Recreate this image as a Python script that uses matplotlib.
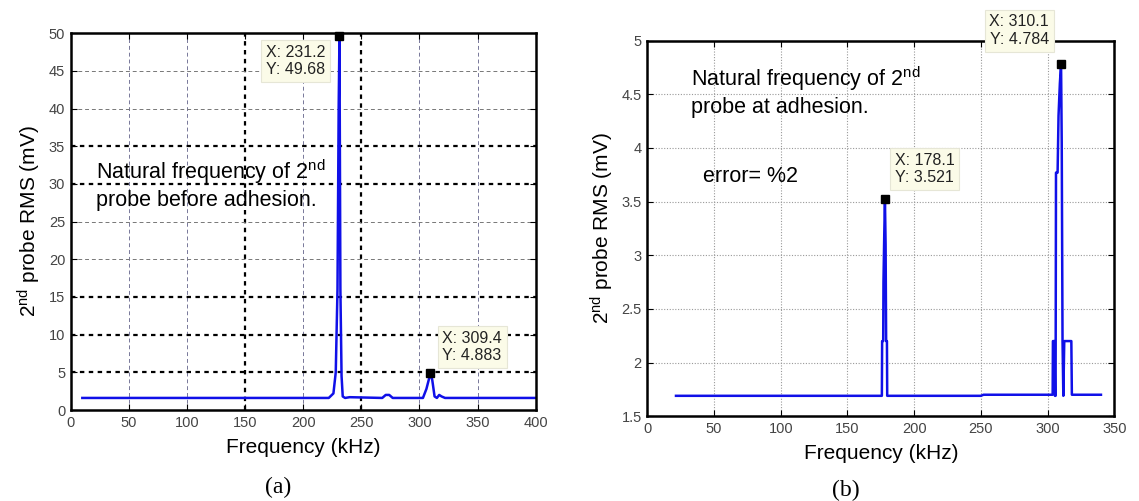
import matplotlib
matplotlib.use("Agg")
import matplotlib.pyplot as plt

plt.rcParams['font.family'] = ['Liberation Sans', 'DejaVu Sans']
plt.rcParams['mathtext.fontset'] = 'custom'
plt.rcParams['mathtext.rm'] = 'Liberation Sans'
plt.rcParams['mathtext.it'] = 'Liberation Sans'
plt.rcParams['mathtext.default'] = 'regular'

# ---------------- data: panel (a) ----------------
freq_a = [10, 222, 226, 228, 229.5, 230.5, 231.2, 232, 233, 234, 236, 240,
          268, 271, 274, 277, 303, 306, 308, 309.4, 311, 313, 315, 317, 319, 322, 400]
rms_a = [1.6, 1.6, 2.2, 5.0, 16.0, 40.0, 49.68, 16.0, 4.5, 1.8, 1.6, 1.7,
         1.6, 2.0, 2.0, 1.6, 1.6, 2.8, 4.0, 4.883, 4.0, 1.8, 1.6, 2.0, 1.8, 1.6, 1.6]
tips_a = [(231.2, 49.68), (309.4, 4.883)]
xticks_a = [0, 50, 100, 150, 200, 250, 300, 350, 400]
yticks_a = [0, 5, 10, 15, 20, 25, 30, 35, 40, 45, 50]

# ---------------- data: panel (b) ----------------
freq_b = [21.5, 175.8, 176.0, 176.8, 177.0, 177.6, 178.1, 178.6, 179.0, 179.6, 179.8,
          250, 252,
          303.8, 304.0, 305.2, 305.5, 306.0, 306.3, 307.5, 308.2, 309.2, 310.1, 310.6,
          311.2, 311.8, 312.5, 317.8, 318.2, 340]
rms_b = [1.69, 1.69, 2.2, 2.2, 2.75, 3.2, 3.521, 3.1, 2.2, 2.2, 1.69,
         1.69, 1.70,
         1.70, 2.2, 2.2, 1.69, 1.69, 3.77, 3.77, 4.3, 4.6, 4.784, 4.05,
         2.2, 1.69, 2.2, 2.2, 1.70, 1.70]
tips_b = [(178.1, 3.521), (310.1, 4.784)]
xticks_b = [0, 50, 100, 150, 200, 250, 300, 350]
yticks_b = [1.5, 2.0, 2.5, 3.0, 3.5, 4.0, 4.5, 5.0]
yticklabels_b = ['1.5', '2', '2.5', '3', '3.5', '4', '4.5', '5']

W, H = 1139, 501
fig = plt.figure(figsize=(W / 100, H / 100), dpi=100)

def px_axes(l, t, r, b):
    return fig.add_axes([l / W, 1 - b / H, (r - l) / W, (b - t) / H])

axa = px_axes(70.7, 33.2, 535.7, 410.0)
axb = px_axes(647.3, 40.6, 1114.3, 416.2)

line_color = '#1010e8'
tip_kw = dict(fontsize=11.5, color='#222222',
              bbox=dict(boxstyle='square,pad=0.3', facecolor='#fbfbe8',
                        edgecolor='#e6e6d6', linewidth=0.8))

def style_axes(ax):
    ax.tick_params(direction='in', top=True, right=True, length=4, width=0.8,
                   labelsize=10.5, labelcolor='#444444', pad=4)
    for s in ax.spines.values():
        s.set_linewidth(1.8)
        s.set_color('black')
        s.set_zorder(5)
    ax.set_xlabel('Frequency (kHz)', fontsize=15, labelpad=6)
    ax.set_ylabel('2$^{nd}$ probe RMS (mV)', fontsize=15, labelpad=4)

# ---------------- panel (a) ----------------
ax = axa
ax.set_xlim(0, 400)
ax.set_ylim(0, 50)
ax.set_xticks(xticks_a)
ax.set_yticks(yticks_a)
dark_x = [150, 250]
dark_y = [5, 10, 15, 30, 35]
for xv in xticks_a[1:-1]:
    if xv in dark_x:
        ax.axvline(xv, color='black', ls=(0, (2, 2)), lw=1.6, zorder=1)
    else:
        ax.axvline(xv, color='#777799', ls=(0, (4, 3)), lw=0.7, zorder=1)
for yv in yticks_a[1:-1]:
    if yv in dark_y:
        ax.axhline(yv, color='black', ls=(0, (2, 2)), lw=1.6, zorder=1)
    else:
        ax.axhline(yv, color='#777777', ls=(0, (4, 3)), lw=0.7, zorder=1)
ax.plot(freq_a, rms_a, color=line_color, lw=1.8, zorder=3)
for (x, y) in tips_a:
    ax.plot([x], [y], 's', color='black', ms=6, zorder=6, clip_on=False)
ax.annotate('X: %.1f\nY: %s' % (tips_a[0][0], '49.68'), xy=tips_a[0],
            xytext=(-14, -9), textcoords='offset pixels', ha='right', va='top',
            zorder=7, **tip_kw)
ax.annotate('X: %.1f\nY: %s' % (tips_a[1][0], '4.883'), xy=tips_a[1],
            xytext=(12, 10), textcoords='offset pixels', ha='left', va='bottom',
            zorder=7, **tip_kw)
ax.text(22, 33.5, 'Natural frequency of 2$^{nd}$\nprobe before adhesion.',
        fontsize=15.5, va='top', ha='left', linespacing=1.25, zorder=4)
style_axes(ax)

# ---------------- panel (b) ----------------
ax = axb
ax.set_xlim(0, 350)
ax.set_ylim(1.5, 5)
ax.set_xticks(xticks_b)
ax.set_yticks(yticks_b)
ax.set_yticklabels(yticklabels_b)
ax.grid(True, color='#999999', ls=(0, (1, 1.5)), lw=0.8, zorder=1)
ax.set_axisbelow(True)
ax.plot(freq_b, rms_b, color=line_color, lw=1.8, zorder=3)
for (x, y) in tips_b:
    ax.plot([x], [y], 's', color='black', ms=6, zorder=6, clip_on=False)
ax.annotate('X: %.1f\nY: %s' % (tips_b[0][0], '3.521'), xy=tips_b[0],
            xytext=(10, 14), textcoords='offset pixels', ha='left', va='bottom',
            zorder=7, **tip_kw)
ax.annotate('X: %.1f\nY: %s' % (tips_b[1][0], '4.784'), xy=tips_b[1],
            xytext=(-12, 17), textcoords='offset pixels', ha='right', va='bottom',
            zorder=7, annotation_clip=False, **tip_kw)
ax.text(32.5, 4.78, 'Natural frequency of 2$^{nd}$\nprobe at adhesion.',
        fontsize=15.5, va='top', ha='left', linespacing=1.25, zorder=4)
ax.text(42, 3.73, 'error= %2', fontsize=15.5, va='center', ha='left', zorder=4)
style_axes(ax)

fig.text(278 / W, 1 - 487 / H, '(a)', family='Liberation Serif', fontsize=17,
         ha='center', va='center')
fig.text(846 / W, 1 - 490 / H, '(b)', family='Liberation Serif', fontsize=17,
         ha='center', va='center')

fig.savefig('out.png', dpi=100, facecolor='white')
